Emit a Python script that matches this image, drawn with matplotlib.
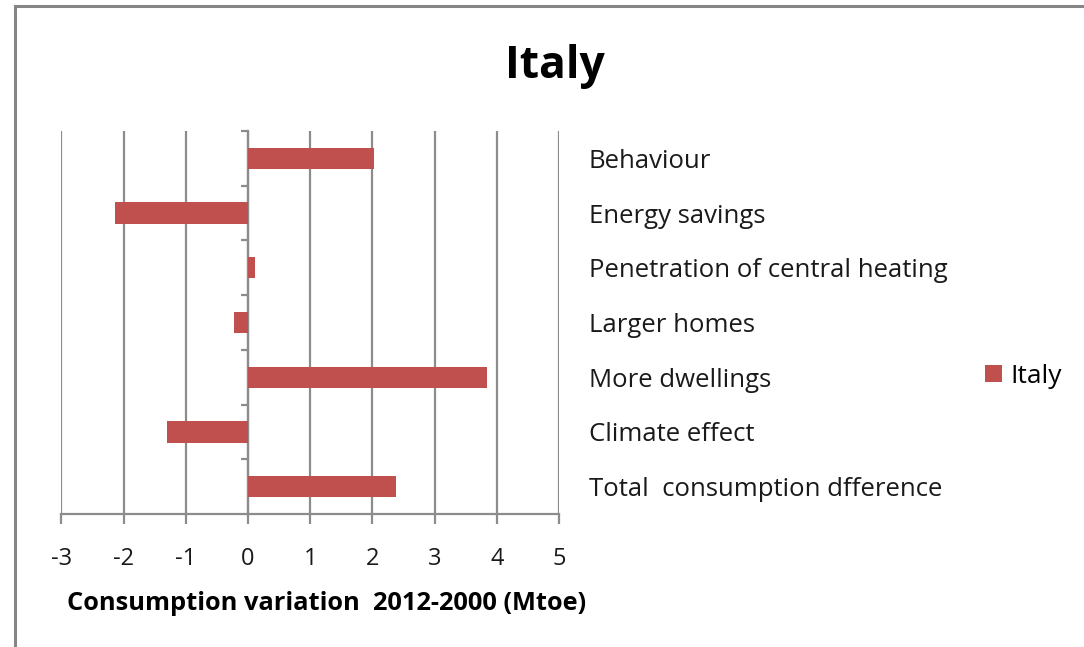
import matplotlib
matplotlib.use("Agg")
import matplotlib.pyplot as plt
from matplotlib.ticker import MultipleLocator
from matplotlib.lines import Line2D
from matplotlib.patches import Patch

plt.rcParams['font.family'] = ['Open Sans', 'DejaVu Sans']
plt.rcParams['axes.unicode_minus'] = False

# Decomposition of residential consumption change, Italy
categories = ["Behaviour", "Energy savings", "Penetration of central heating",
              "Larger homes", "More dwellings", "Climate effect",
              "Total  consumption dfference"]
values = [2.03, -2.14, 0.11, -0.22, 3.84, -1.30, 2.38]

bar_color = "#C0504D"
grid_color = "#8C8C8C"
text_color = "#1a1a1a"

fig = plt.figure(figsize=(10.84, 6.47), dpi=100)
ax = fig.add_axes([0.0567, 0.2056, 0.4590, 0.5919])

pos = list(range(len(categories)))
ax.barh(pos, values, height=0.39, color=bar_color, zorder=3)

ax.set_xlim(-3, 5)
ax.set_ylim(len(categories) - 0.5, -0.5)
ax.xaxis.set_major_locator(MultipleLocator(1))
ax.grid(axis="x", color=grid_color, linewidth=1.6, zorder=0)

# vertical axis sits at zero, category names on the right
ax.spines["left"].set_position(("data", 0))
for s in ("top", "right"):
    ax.spines[s].set_visible(False)
ax.spines["left"].set_color(grid_color)
ax.spines["left"].set_linewidth(1.6)
ax.spines["bottom"].set_color(grid_color)
ax.spines["bottom"].set_linewidth(1.6)

ax.set_yticks(pos)
ax.set_yticklabels(categories)
ax.tick_params(axis="y", which="major", left=False, right=False,
               labelleft=False, labelright=True, pad=18, labelsize=18.5,
               labelcolor=text_color)
ax.set_yticks([p + 0.5 for p in pos[:-1]] + [-0.5], minor=True)
ax.tick_params(axis="y", which="minor", left=True, direction="out",
               length=5, width=1.6, color=grid_color)
ax.tick_params(axis="x", direction="out", length=7, width=1.6,
               color=grid_color, pad=17, labelsize=17, labelcolor=text_color)

ax.set_xlabel("Consumption variation  2012-2000 (Mtoe)", fontsize=18.3,
              fontweight="bold")
ax.xaxis.set_label_coords(0.533, -0.2)
fig.suptitle("Italy", x=0.512, y=0.932, fontsize=32, fontweight="bold")

handles = [Patch(facecolor=bar_color, label="Italy")]
fig.legend(handles=handles, loc="center left", bbox_to_anchor=(0.887, 0.418),
           frameon=False, fontsize=19, handlelength=0.62, handleheight=0.62,
           handletextpad=0.35)

# chart frame (left and top edges only fall inside the image)
fig.add_artist(Line2D([0.0138, 0.0138], [0.0, 0.991], color="#868686",
                      linewidth=2.2, transform=fig.transFigure))
fig.add_artist(Line2D([0.0138, 1.0], [0.991, 0.991], color="#868686",
                      linewidth=2.2, transform=fig.transFigure))

fig.savefig("out.png", dpi=100)
